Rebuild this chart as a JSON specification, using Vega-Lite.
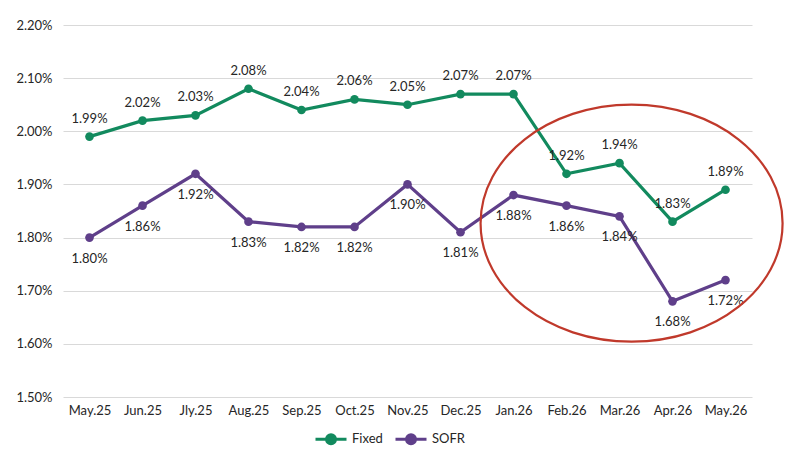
{
  "$schema": "https://vega.github.io/schema/vega-lite/v6.json",
  "width": 689,
  "height": 372,
  "autosize": "none",
  "padding": {"left": 63, "top": 25, "right": 49, "bottom": 63},
  "background": "white",
  "config": {
    "font": "Lato",
    "view": {"stroke": null},
    "axis": {"labelFont": "Lato", "labelFontSize": 13, "labelColor": "#262626"}
  },
  "datasets": {
    "rates": [
      {"month": "May.25", "series": "Fixed", "rate": 0.0199},
      {"month": "Jun.25", "series": "Fixed", "rate": 0.0202},
      {"month": "Jly.25", "series": "Fixed", "rate": 0.0203},
      {"month": "Aug.25", "series": "Fixed", "rate": 0.0208},
      {"month": "Sep.25", "series": "Fixed", "rate": 0.0204},
      {"month": "Oct.25", "series": "Fixed", "rate": 0.0206},
      {"month": "Nov.25", "series": "Fixed", "rate": 0.0205},
      {"month": "Dec.25", "series": "Fixed", "rate": 0.0207},
      {"month": "Jan.26", "series": "Fixed", "rate": 0.0207},
      {"month": "Feb.26", "series": "Fixed", "rate": 0.0192},
      {"month": "Mar.26", "series": "Fixed", "rate": 0.0194},
      {"month": "Apr.26", "series": "Fixed", "rate": 0.0183},
      {"month": "May.26", "series": "Fixed", "rate": 0.0189},
      {"month": "May.25", "series": "SOFR", "rate": 0.0180},
      {"month": "Jun.25", "series": "SOFR", "rate": 0.0186},
      {"month": "Jly.25", "series": "SOFR", "rate": 0.0192},
      {"month": "Aug.25", "series": "SOFR", "rate": 0.0183},
      {"month": "Sep.25", "series": "SOFR", "rate": 0.0182},
      {"month": "Oct.25", "series": "SOFR", "rate": 0.0182},
      {"month": "Nov.25", "series": "SOFR", "rate": 0.0190},
      {"month": "Dec.25", "series": "SOFR", "rate": 0.0181},
      {"month": "Jan.26", "series": "SOFR", "rate": 0.0188},
      {"month": "Feb.26", "series": "SOFR", "rate": 0.0186},
      {"month": "Mar.26", "series": "SOFR", "rate": 0.0184},
      {"month": "Apr.26", "series": "SOFR", "rate": 0.0168},
      {"month": "May.26", "series": "SOFR", "rate": 0.0172}
    ],
    "highlight": [
      {"month": "Mar.26", "rate": 0.0183}
    ]
  },
  "encoding": {
    "x": {
      "field": "month",
      "type": "ordinal",
      "sort": ["May.25", "Jun.25", "Jly.25", "Aug.25", "Sep.25", "Oct.25", "Nov.25", "Dec.25", "Jan.26", "Feb.26", "Mar.26", "Apr.26", "May.26"],
      "scale": {"type": "point", "padding": 0.5},
      "axis": {"title": null, "labelAngle": 0, "ticks": false, "domain": false, "labelPadding": 7, "grid": false}
    },
    "y": {
      "field": "rate",
      "type": "quantitative",
      "scale": {"domain": [0.015, 0.022], "nice": false, "zero": false},
      "axis": {
        "title": null,
        "format": ".2%",
        "values": [0.015, 0.016, 0.017, 0.018, 0.019, 0.020, 0.021, 0.022],
        "ticks": false,
        "domain": false,
        "labelPadding": 11,
        "gridColor": "#d9d9d9",
        "gridWidth": 1.2
      }
    }
  },
  "layer": [
    {
      "data": {"name": "rates"},
      "mark": {"type": "line", "strokeWidth": 3.2, "point": {"size": 75, "filled": true, "opacity": 1}},
      "encoding": {
        "color": {
          "field": "series",
          "type": "nominal",
          "scale": {"domain": ["Fixed", "SOFR"], "range": ["#128a5e", "#5f3f8a"]},
          "legend": {
            "title": null,
            "orient": "none",
            "legendX": 251,
            "legendY": 397,
            "direction": "horizontal",
            "labelFont": "Lato",
            "labelFontSize": 13,
            "labelColor": "#262626",
            "symbolType": "M-1,0L1,0M-0.29,0A0.29,0.29,0,1,1,0.29,0A0.29,0.29,0,1,1,-0.29,0Z",
            "symbolSize": 961,
            "symbolStrokeWidth": 3,
            "columnPadding": 6,
            "labelOffset": 4,
            "encode": {
              "symbols": {"update": {"fill": {"scale": "color", "field": "value"}, "fillOpacity": {"value": 1}}}
            }
          }
        }
      }
    },
    {
      "data": {"name": "rates"},
      "transform": [{"filter": "datum.series === 'Fixed'"}],
      "mark": {"type": "text", "dy": -18, "fontSize": 13, "font": "Lato", "color": "#262626"},
      "encoding": {"text": {"field": "rate", "type": "quantitative", "format": ".2%"}}
    },
    {
      "data": {"name": "rates"},
      "transform": [{"filter": "datum.series === 'SOFR'"}],
      "mark": {"type": "text", "dy": 21, "fontSize": 13, "font": "Lato", "color": "#262626"},
      "encoding": {"text": {"field": "rate", "type": "quantitative", "format": ".2%"}}
    },
    {
      "data": {"name": "highlight"},
      "mark": {
        "type": "point",
        "shape": "M-0.92,0.01A1,0.785,0,1,1,1.08,0.01A1,0.785,0,1,1,-0.92,0.01Z",
        "size": 91204,
        "filled": false,
        "stroke": "#c0392b",
        "strokeWidth": 2.2,
        "opacity": 1
      },
      "encoding": {}
    }
  ]
}
